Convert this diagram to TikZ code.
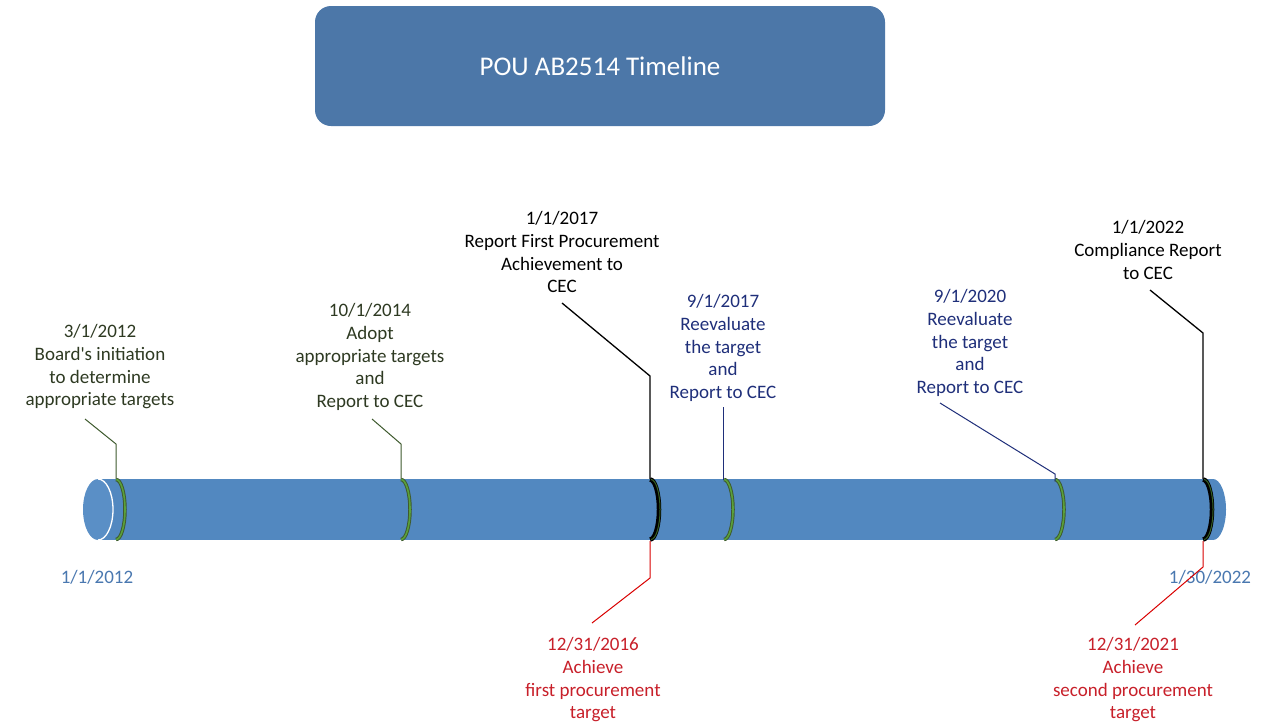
\documentclass[tikz,border=0pt]{standalone}
\usepackage{fontspec}
\setmainfont{Carlito}
\begin{document}
\begin{tikzpicture}[x=1pt,y=-1pt,
  lbl/.style={align=center,font=\fontsize{19}{22.8}\selectfont,inner sep=0pt,anchor=north},
  greentxt/.style={lbl,text=txtgreen},
  blacktxt/.style={lbl,text=black},
  bluetxt/.style={lbl,text=txtblue},
  redtxt/.style={lbl,text=txtred},
  leadgreen/.style={draw=leadgreenc,line width=1pt},
  leadblack/.style={draw=black,line width=1.3pt},
  leadblue/.style={draw=txtblue,line width=1pt},
  leadred/.style={draw=red!85!black,line width=1pt},
  datelbl/.style={font=\fontsize{19}{22}\selectfont,text=datec,inner sep=0pt}
]
\definecolor{boxc}{HTML}{4C77A8}
\definecolor{tubec}{HTML}{5288C0}
\definecolor{tubeend}{HTML}{5A8FC6}
\definecolor{txtgreen}{HTML}{2E3A22}
\definecolor{leadgreenc}{HTML}{3E5A2E}
\definecolor{txtblue}{HTML}{1F2F7A}
\definecolor{txtred}{HTML}{C8202A}
\definecolor{datec}{HTML}{4A78B0}
\definecolor{ringgreen}{HTML}{5AA03A}

\useasboundingbox (0,0) rectangle (1261,724);
\fill[white] (0,0) rectangle (1261,724);

% title
\node[fill=boxc,rounded corners=16pt,minimum width=570pt,minimum height=120pt,inner sep=0pt,
  text=white,font=\fontsize{27}{32}\selectfont] (title) at (600,66) {POU AB2514 Timeline};

% tube
\fill[tubec] (98,479) rectangle (1213,540);
\fill[tubec] (1213,479) arc[start angle=90,end angle=-90,x radius=13pt,y radius=30.5pt] -- cycle;
\fill[tubeend] (98,509.5) ellipse[x radius=15pt,y radius=30.5pt];
\draw[white,line width=1.3pt] (98,479) arc[start angle=90,end angle=-90,x radius=15pt,y radius=30.5pt];

% rings
\foreach \x in {116,401,724,1055}{
  \draw[draw=leadgreenc,line width=3.5pt] (\x,479.5) arc[start angle=90,end angle=-90,x radius=9pt,y radius=30pt];
  \draw[draw=ringgreen,line width=1.6pt] (\x,479.5) arc[start angle=90,end angle=-90,x radius=9pt,y radius=30pt];
}
\foreach \x in {650,1203}{
  \draw[draw=black,line width=4.5pt] (\x,479.5) arc[start angle=90,end angle=-90,x radius=9pt,y radius=30pt];
  \draw[draw=ringgreen!60!black,line width=1pt] (\x+1,479.5) arc[start angle=90,end angle=-90,x radius=9pt,y radius=30pt];
}

% coordinates on the tube
\coordinate (r1) at (116,479);
\coordinate (r2) at (401,479);
\coordinate (r3) at (650,479);
\coordinate (r4) at (723,480);
\coordinate (r5) at (1055,481);
\coordinate (r6) at (1203,479);
\coordinate (b3) at (650,541);
\coordinate (b6) at (1203,541);

% labels above
\node[greentxt] (t1) at (100,324) {3/1/2012\\Board\textquotesingle s initiation\\to determine\\appropriate targets};
\node[greentxt] (t2) at (370,303) {10/1/2014\\Adopt\\appropriate targets\\and\\Report to CEC};
\node[blacktxt] (t3) at (562,211) {1/1/2017\\Report First Procurement\\Achievement to\\CEC};
\node[bluetxt] (t4) at (723,294) {9/1/2017\\Reevaluate\\the target\\and\\Report to CEC};
\node[bluetxt] (t5) at (970,289) {9/1/2020\\Reevaluate\\the target\\and\\Report to CEC};
\node[blacktxt] (t6) at (1148,220) {1/1/2022\\Compliance Report\\to CEC};

% labels below
\node[redtxt] (t7) at (593,637) {12/31/2016\\Achieve\\first procurement\\target};
\node[redtxt] (t8) at (1133,637) {12/31/2021\\Achieve\\second procurement\\target};

\node[datelbl] (d1) at (97,577) {1/1/2012};
\node[datelbl] (d2) at (1210,577) {1/30/2022};

% leader coordinates
\coordinate (s1) at (85,419);  \coordinate (k1) at (116,444);
\coordinate (s2) at (372,419); \coordinate (k2) at (401,444);
\coordinate (s3) at (562,303); \coordinate (k3) at (650,376);
\coordinate (s4) at (723,407);
\coordinate (s5) at (940,403); \coordinate (k5) at (1055,474);
\coordinate (s6) at (1150,290); \coordinate (k6) at (1203,333);
\coordinate (k7) at (650,578); \coordinate (s7) at (592,623);
\coordinate (k8) at (1203,567); \coordinate (s8) at (1135,625);

\draw[leadgreen] (s1) -- (k1) -- (r1);
\draw[leadgreen] (s2) -- (k2) -- (r2);
\draw[leadblack] (s3) -- (k3) -- (r3);
\draw[leadblue] (s4) -- (r4);
\draw[leadblue] (s5) -- (k5) -- (r5);
\draw[leadblack] (s6) -- (k6) -- (r6);
\draw[leadred] (b3) -- (k7) -- (s7);
\draw[leadred] (b6) -- (k8) -- (s8);
\end{tikzpicture}
\end{document}
